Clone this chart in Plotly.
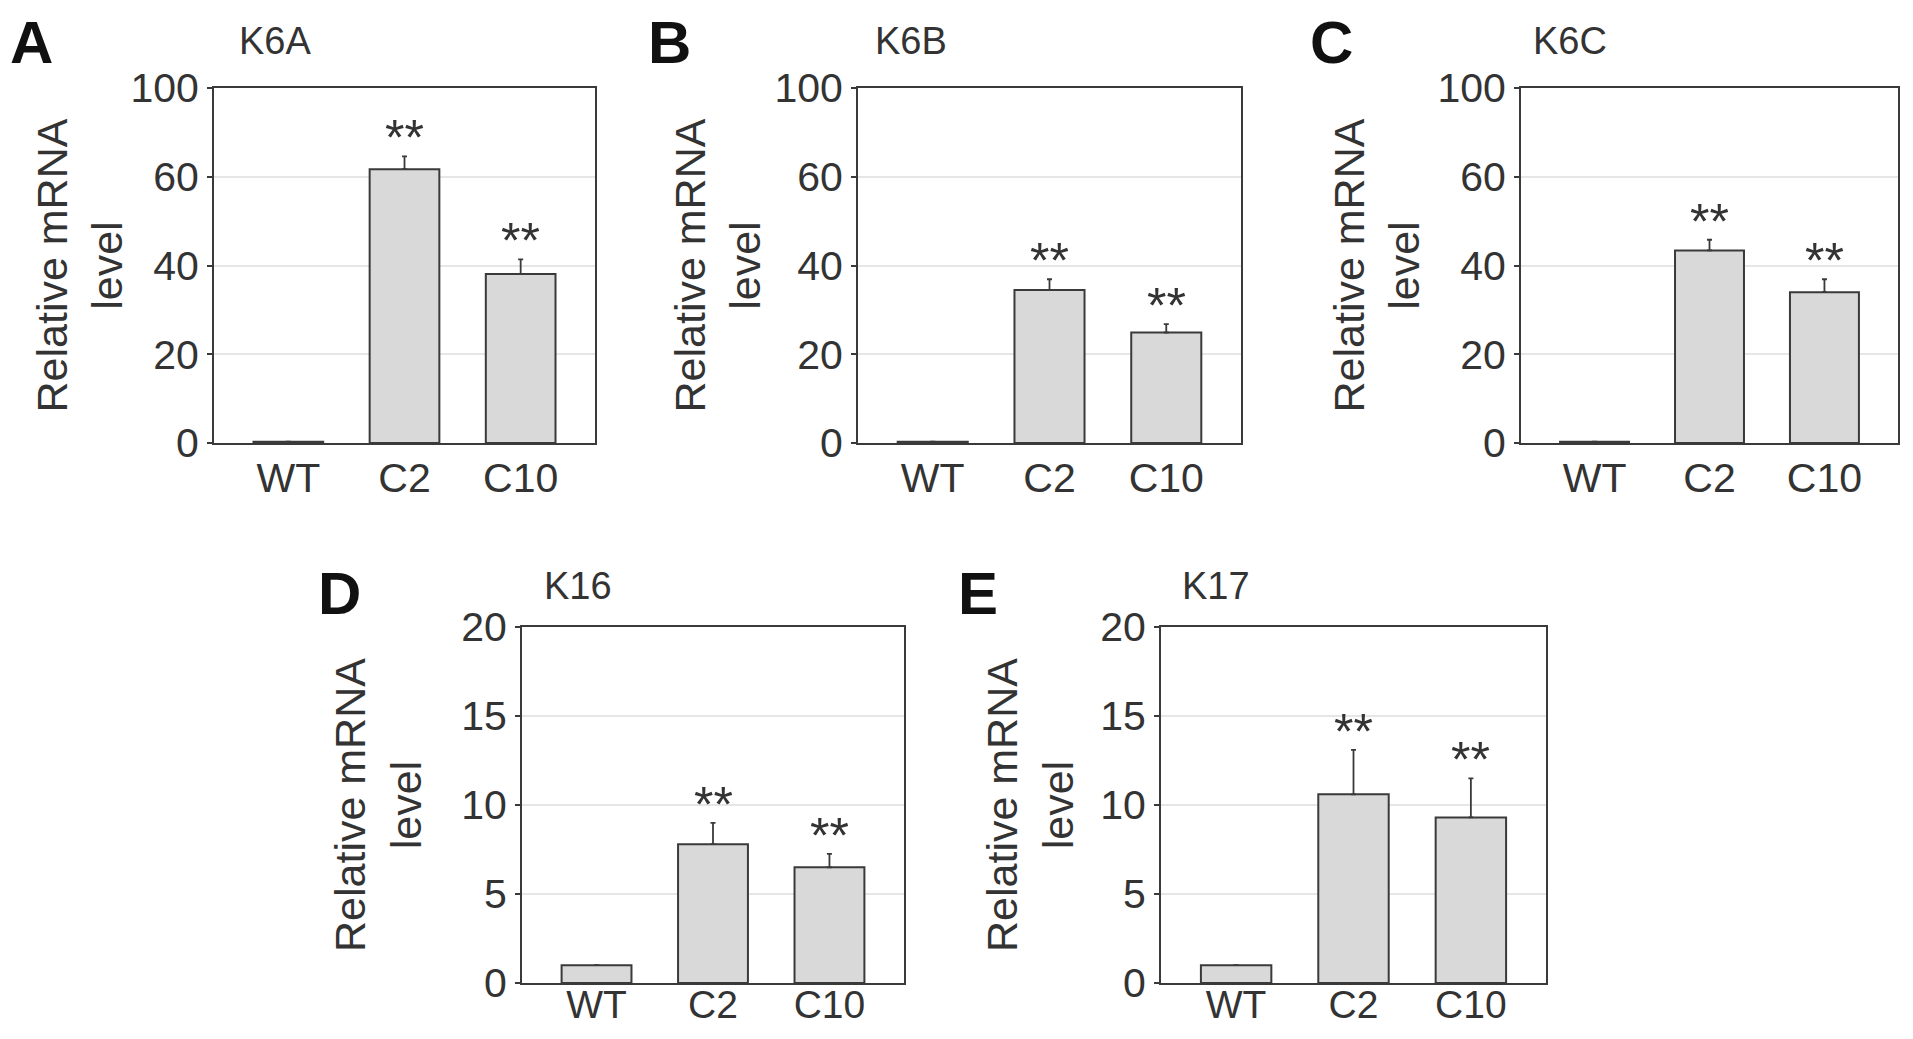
import plotly.graph_objects as go

# the page body keeps an 8 px margin, so the figure is made that much smaller
PAGE_W, PAGE_H, BODY = 1913, 1039, 8
W, H = PAGE_W - 2 * BODY, PAGE_H - 2 * BODY

GROUPS = ["WT", "C2", "C10"]
PANEL_LETTERS = ["A", "B", "C", "D", "E"]
GENES = ["K6A", "K6B", "K6C", "K16", "K17"]

K6A_MEAN = [0.3, 61.7, 38.1]
K6A_ERR = [0, 2.9, 3.3]
K6B_MEAN = [0.3, 34.5, 24.9]
K6B_ERR = [0, 2.4, 1.9]
K6C_MEAN = [0.3, 43.4, 34.0]
K6C_ERR = [0, 2.4, 2.9]
K16_MEAN = [1.0, 7.8, 6.5]
K16_ERR = [0, 1.2, 0.75]
K17_MEAN = [1.0, 10.6, 9.3]
K17_ERR = [0, 2.5, 2.2]
STARS = ["", "**", "**"]

# top label of the K6 panels reads "100" although it sits one step above 60
K6_TICKS = [0, 20, 40, 60, 80]
K6_TICKTEXT = ["0", "20", "40", "60", "100"]
K1X_TICKS = [0, 5, 10, 15, 20]
K1X_TICKTEXT = ["0", "5", "10", "15", "20"]

MEANS = [K6A_MEAN, K6B_MEAN, K6C_MEAN, K16_MEAN, K17_MEAN]
ERRS = [K6A_ERR, K6B_ERR, K6C_ERR, K16_ERR, K17_ERR]
TICKS = [K6_TICKS, K6_TICKS, K6_TICKS, K1X_TICKS, K1X_TICKS]
TICKTEXT = [K6_TICKTEXT, K6_TICKTEXT, K6_TICKTEXT, K1X_TICKTEXT, K1X_TICKTEXT]

# pixel boxes of each plot area on the page: (left, right, top, bottom)
BOXES = [
    (214, 595, 88, 443),
    (858, 1241, 88, 443),
    (1521, 1898, 88, 443),
    (522, 904, 627, 983),
    (1161, 1546, 627, 983),
]
LETTER_X = [8, 646, 1308, 316, 956]
TITLE_X = [237, 873, 1531, 542, 1180]
YTITLE_X = [79, 717, 1376, 378, 1030]

FONT = "Liberation Sans, Arial, sans-serif"
INK = "#333333"
LINE = "#3a3a3a"


def px_x(v):
    return (v - BODY) / W


def px_y(v):
    return 1 - (v - BODY) / H


fig = go.Figure()
annotations = []

for i in range(5):
    n = "" if i == 0 else str(i + 1)
    left, right, top, bottom = BOXES[i]
    fig.add_trace(go.Bar(
        x=GROUPS,
        y=MEANS[i],
        width=0.6,
        marker=dict(color="#d9d9d9", line=dict(color=LINE, width=2)),
        error_y=dict(type="data", symmetric=False, array=ERRS[i], arrayminus=[0, 0, 0],
                     color=LINE, thickness=1.8, width=2.5),
        xaxis="x" + n,
        yaxis="y" + n,
        showlegend=False,
    ))
    fig.layout["xaxis" + n] = dict(
        domain=[px_x(left), px_x(right)], anchor="y" + n,
        type="category", range=[-0.64, 2.64],
        showline=True, linecolor=LINE, linewidth=2, mirror=True,
        ticks="", showgrid=False, zeroline=False, automargin=False,
        tickfont=dict(family=FONT, size=41 if i < 3 else 39, color=INK),
        ticklabelstandoff=-2 if i < 3 else -14,
    )
    top_val = TICKS[i][-1]
    fig.layout["yaxis" + n] = dict(
        domain=[px_y(bottom), px_y(top)], anchor="x" + n,
        range=[0, top_val], tickvals=TICKS[i], ticktext=TICKTEXT[i],
        showline=True, linecolor=LINE, linewidth=2, mirror=True,
        ticks="outside", ticklen=5, tickwidth=1.5, tickcolor=LINE,
        showgrid=True, gridcolor="#e6e6e6", gridwidth=1.5, zeroline=False,
        automargin=False,
        tickfont=dict(family=FONT, size=41, color=INK),
        fixedrange=True,
    )
    for j, s in enumerate(STARS):
        if s:
            annotations.append(dict(
                x=GROUPS[j], y=MEANS[i][j] + ERRS[i][j],
                xref="x" + n, yref="y" + n,
                text=s, showarrow=False, yanchor="bottom", yshift=-12,
                font=dict(family=FONT, size=50, color=INK),
            ))
    head_y = 43 if i < 3 else 593
    annotations.append(dict(
        x=px_x(LETTER_X[i]), y=px_y(head_y), xref="paper", yref="paper",
        text="<b>" + PANEL_LETTERS[i] + "</b>", showarrow=False,
        xanchor="left", yanchor="middle",
        font=dict(family=FONT, size=60, color="#111111"),
    ))
    annotations.append(dict(
        x=px_x(TITLE_X[i]), y=px_y(head_y - 2 if i < 3 else 586), xref="paper", yref="paper",
        text=GENES[i], showarrow=False, xanchor="left", yanchor="middle",
        font=dict(family=FONT, size=38, color=INK),
    ))
    annotations.append(dict(
        x=px_x(YTITLE_X[i]), y=px_y((top + bottom) / 2), xref="paper", yref="paper",
        text="Relative mRNA<br>level", showarrow=False, textangle=-90,
        xanchor="center", yanchor="middle",
        font=dict(family=FONT, size=43, color=INK),
    ))

fig.update_layout(
    width=W, height=H,
    margin=dict(l=0, r=0, t=0, b=0, autoexpand=False),
    paper_bgcolor="white", plot_bgcolor="white",
    annotations=annotations,
    bargap=0.4,
)

fig.write_html("out.html")
